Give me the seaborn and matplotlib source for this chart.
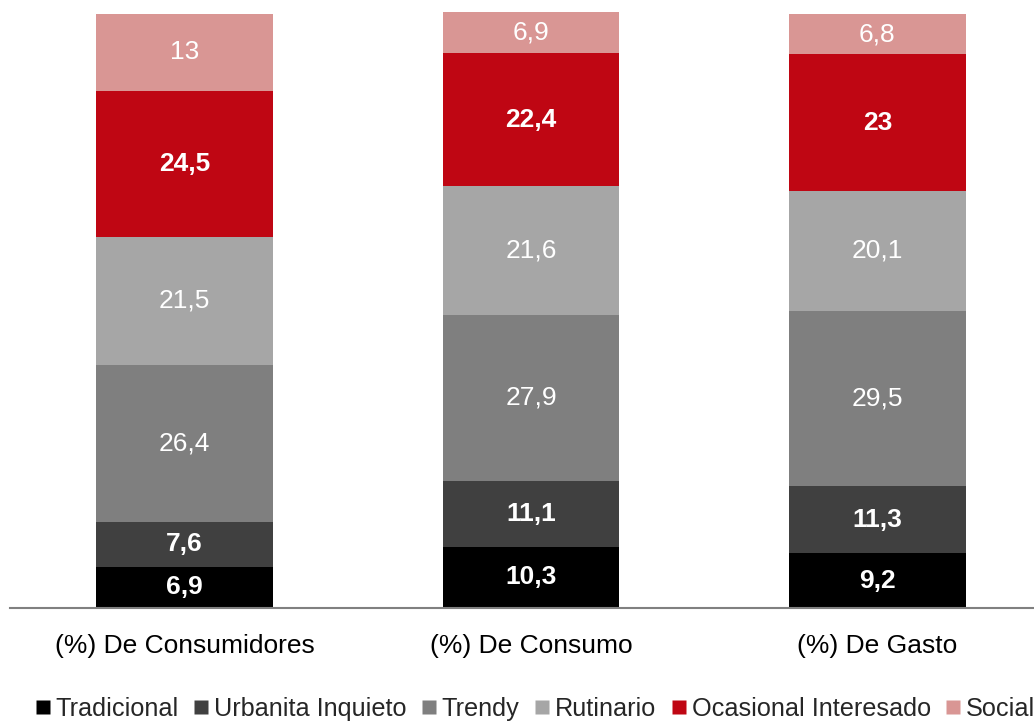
import matplotlib
matplotlib.use("Agg")
import matplotlib.pyplot as plt
from matplotlib.lines import Line2D
import numpy as np
import seaborn as sns

sns.set_theme(style="white")
plt.rcParams['font.family'] = ['Liberation Sans', 'DejaVu Sans']

# data
categories = ['(%) De Consumidores', '(%) De Consumo', '(%) De Gasto']
segments = ['Tradicional', 'Urbanita Inquieto', 'Trendy', 'Rutinario', 'Ocasional Interesado', 'Social']
tradicional = [6.9, 10.3, 9.2]
urbanita = [7.6, 11.1, 11.3]
trendy = [26.4, 27.9, 29.5]
rutinario = [21.5, 21.6, 20.1]
ocasional = [24.5, 22.4, 23.0]
social = [13.0, 6.9, 6.8]
labels = [['6,9', '10,3', '9,2'], ['7,6', '11,1', '11,3'], ['26,4', '27,9', '29,5'],
          ['21,5', '21,6', '20,1'], ['24,5', '22,4', '23'], ['13', '6,9', '6,8']]

colors = ['#000000', '#404040', '#7f7f7f', '#a6a6a6', '#bf0613', '#d99694']
bold = [True, True, False, False, True, False]

fig = plt.figure(figsize=(10.34, 7.23), dpi=100)
ax = fig.add_axes([10 / 1034, 1 - 608 / 723, 1 - 10 / 1034, 596 / 723])

series = [tradicional, urbanita, trendy, rutinario, ocasional, social]
bottom = np.zeros(len(categories))
for vals, col, lab, b in zip(series, colors, labels, bold):
    sns.barplot(x=categories, y=vals, bottom=bottom, color=col, saturation=1,
                width=0.51, ax=ax, edgecolor='none', linewidth=0)
    for i, v in enumerate(vals):
        ax.text(i, bottom[i] + v / 2, lab[i], ha='center', va='center',
                color='white', fontsize=19, fontweight='bold' if b else 'normal')
    bottom = bottom + np.array(vals)

ax.set_xlim(-0.504, 2.452)
ax.set_ylim(0, 100.2)
ax.set_yticks([])
ax.set_ylabel('')
for s in ['top', 'right', 'left']:
    ax.spines[s].set_visible(False)
ax.spines['bottom'].set_color('#808080')
ax.spines['bottom'].set_linewidth(1.5)
ax.tick_params(axis='x', length=0, labelsize=19, pad=19, colors='black')

handles = [Line2D([], [], marker='s', linestyle='none', markersize=10,
                  markerfacecolor=c, markeredgecolor='none') for c in colors]
fig.legend(handles, segments, loc='center left', bbox_to_anchor=(35 / 1034, 1 - 709 / 723),
           ncol=6, frameon=False, fontsize=18.2, handlelength=0.6, handletextpad=0.2,
           columnspacing=0.6, borderaxespad=0, borderpad=0)

fig.savefig('out.png', dpi=100)
